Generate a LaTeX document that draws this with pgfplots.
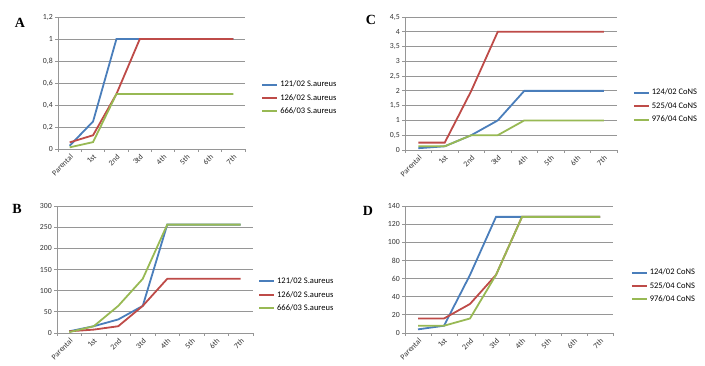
\documentclass[border=0pt]{standalone}
\usepackage{fontspec}
\setmainfont{Carlito}
\newfontfamily\letterfont{Liberation Serif}
\usepackage{pgfplots}
\pgfplotsset{compat=1.18}
\definecolor{xblue}{RGB}{74,126,187}
\definecolor{xred}{RGB}{190,75,72}
\definecolor{xgreen}{RGB}{152,185,84}
\definecolor{xgrid}{RGB}{150,150,150}
\pgfplotsset{excel/.style={
  scale only axis, axis lines*=left,
  xmin=-0.5, xmax=7.5, ymin=0,
  xtick={0,...,7}, xticklabels={Parental,1st,2nd,3td,4th,5th,6th,7th},
  major x tick style={draw=none},
  minor xtick={-0.5,0.5,...,7.5},
  minor tick length=3pt, major tick length=3pt,
  tick align=outside,
  tick style={xgrid, line width=0.8pt},
  ymajorgrids, grid style={xgrid, line width=0.8pt},
  axis line style={xgrid, line width=0.8pt, -},
  /pgf/number format/assume math mode=true,
  ticklabel style={font=\fontsize{7.8}{9}\selectfont, text=black!80},
  xticklabel style={rotate=45, anchor=north east, inner sep=1pt},
  yticklabel style={inner sep=2pt},
  legend style={draw=none, fill=none, font=\fontsize{8.5}{10}\selectfont, row sep=2pt, anchor=west},
  legend cell align=left,
  legend image code/.code={\draw[#1, line width=2pt] (0pt,0pt) -- (15pt,0pt);},
  every axis plot/.append style={line width=1.8pt, mark=none},
}}
\begin{document}
\begin{tikzpicture}
\useasboundingbox (0,0) rectangle (705pt,366pt);
% Panel A
\begin{axis}[excel, at={(58pt,217pt)}, anchor=south west, width=187pt, height=132pt,
  ymax=1.2, ytick={0,0.2,0.4,0.6,0.8,1,1.2}, yticklabels={0,{0,2},{0,4},{0,6},{0,8},1,{1,2}},
  legend style={at={(1.07,0.386)}}]
\addplot[xblue] coordinates {(0,0.03)(1,0.25)(2,1)(3,1)(4,1)(5,1)(6,1)(7,1)};
\addplot[xred] coordinates {(0,0.06)(1,0.125)(2,0.5)(3,1)(4,1)(5,1)(6,1)(7,1)};
\addplot[xgreen] coordinates {(0,0.015)(1,0.0625)(2,0.5)(3,0.5)(4,0.5)(5,0.5)(6,0.5)(7,0.5)};
\legend{121/02 S.aureus,126/02 S.aureus,666/03 S.aureus}
\end{axis}
% Panel C
\begin{axis}[excel, at={(405pt,216pt)}, anchor=south west, width=212pt, height=133pt,
  ymax=4.5, ytick={0,0.5,1,1.5,2,2.5,3,3.5,4,4.5}, yticklabels={0,{0,5},1,{1,5},2,{2,5},3,{3,5},4,{4,5}},
  legend style={at={(1.06,0.33)}}]
\addplot[xblue] coordinates {(0,0.06)(1,0.125)(2,0.5)(3,1)(4,2)(5,2)(6,2)(7,2)};
\addplot[xred] coordinates {(0,0.25)(1,0.25)(2,2)(3,4)(4,4)(5,4)(6,4)(7,4)};
\addplot[xgreen] coordinates {(0,0.125)(1,0.125)(2,0.5)(3,0.5)(4,1)(5,1)(6,1)(7,1)};
\legend{124/02 CoNS,525/04 CoNS,976/04 CoNS}
\end{axis}
% Panel B
\begin{axis}[excel, at={(57pt,33pt)}, anchor=south west, width=196pt, height=127pt,
  ymax=300, ytick={0,50,...,300},
  legend style={at={(1.01,0.30)}}]
\addplot[xblue] coordinates {(0,4)(1,16)(2,32)(3,64)(4,256)(5,256)(6,256)(7,256)};
\addplot[xred] coordinates {(0,4)(1,8)(2,16)(3,64)(4,128)(5,128)(6,128)(7,128)};
\addplot[xgreen] coordinates {(0,2)(1,16)(2,64)(3,128)(4,256)(5,256)(6,256)(7,256)};
\legend{121/02 S.aureus,126/02 S.aureus,666/03 S.aureus}
\end{axis}
% Panel D
\begin{axis}[excel, at={(405pt,33pt)}, anchor=south west, width=208pt, height=127pt,
  ymax=140, ytick={0,20,...,140},
  legend style={at={(1.07,0.37)}}]
\addplot[xblue] coordinates {(0,4)(1,8)(2,64)(3,128)(4,128)(5,128)(6,128)(7,128)};
\addplot[xred] coordinates {(0,16)(1,16)(2,32)(3,64)(4,128)(5,128)(6,128)(7,128)};
\addplot[xgreen] coordinates {(0,8)(1,8)(2,16)(3,64)(4,128)(5,128)(6,128)(7,128)};
\legend{124/02 CoNS,525/04 CoNS,976/04 CoNS}
\end{axis}
\node[font=\letterfont\bfseries\fontsize{14}{16}\selectfont] at (20pt,343pt) {A};
\node[font=\letterfont\bfseries\fontsize{14}{16}\selectfont] at (371pt,346pt) {C};
\node[font=\letterfont\bfseries\fontsize{14}{16}\selectfont] at (17pt,157pt) {B};
\node[font=\letterfont\bfseries\fontsize{14}{16}\selectfont] at (368pt,155pt) {D};
\end{tikzpicture}
\end{document}
